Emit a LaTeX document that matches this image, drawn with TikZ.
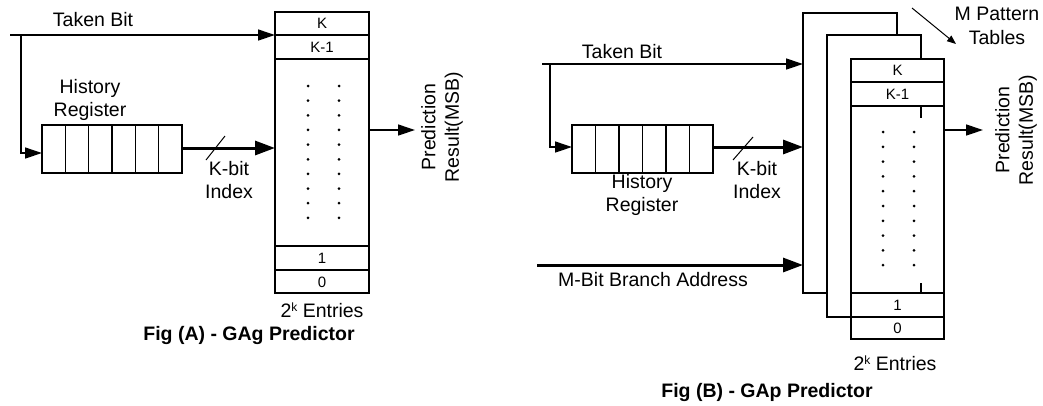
\documentclass[tikz,border=0pt]{standalone}
\usepackage{fontspec}
\setmainfont{Liberation Sans}
\usetikzlibrary{arrows.meta,calc}
\newcommand{\supk}{\raisebox{6.5pt}{\fontsize{12}{12}\selectfont k}}
\begin{document}
\begin{tikzpicture}[x=1pt,y=-1pt,
  lbl/.style={font=\fontsize{19.5}{23.5}\selectfont, inner sep=0pt, align=center},
  cell/.style={font=\fontsize{15}{16}\selectfont, inner sep=0pt},
  title/.style={font=\fontsize{19.5}{23}\selectfont\bfseries, inner sep=0pt},
  wire/.style={line width=1.3pt, -{Triangle[length=17pt,width=11pt]}},
  bus/.style={line width=3pt, -{Triangle[length=20pt,width=14pt]}},
  box/.style={draw, line width=1.4pt, fill=white, inner sep=0pt, outer sep=0pt, anchor=north west},
  rule/.style={line width=1.4pt},
  dotmark/.style={fill=black}]

\useasboundingbox (0,0) rectangle (1043,405);

% ---------------- GAg predictor ----------------
% pattern table
\node[box, minimum width=94pt, minimum height=281pt] (tabA) at (275,12) {};
\foreach \yy in {35,59,246,270}
  \draw[rule] (tabA.west |- 0,\yy) -- (tabA.east |- 0,\yy);
\node[cell] (kA)    at (322,23.5) {K};
\node[cell] (k1A)   at (322,47)   {K-1};
\node[cell] (oneA)  at (322,258)  {1};
\node[cell] (zeroA) at (322,282)  {0};
\foreach \i in {0,...,9} {
  \fill[dotmark] (308,86+14.65*\i) circle (1.5pt);
  \fill[dotmark] (339,86+14.65*\i) circle (1.5pt);
}
\node[lbl] (entA) at (322,310) {2\supk\ Entries};

% history register
\node[box, minimum width=140pt, minimum height=48pt] (regA) at (42,125) {};
\foreach \k in {1,...,5}
  \draw[line width=1.2pt] ($(regA.north west)+(23.33*\k,0)$) -- ($(regA.south west)+(23.33*\k,0)$);
\node[lbl] (histA) at (90,100) {History\\Register};

% taken bit input and its branch into the register
\coordinate (tbA) at (10,35);
\coordinate (brA) at (21,35);
\draw[wire] (tbA) -- (tabA.west |- tbA);
\draw[wire] (brA) |- (regA.west |- 0,153);
\node[lbl] (tbLabA) at (93,20) {Taken Bit};

% k-bit index bus
\draw[bus] (regA.east |- 0,148) -- (tabA.west |- 0,148);
\coordinate (slA1) at (206,160);
\coordinate (slA2) at (225,136);
\draw[line width=1pt] (slA1) -- (slA2);
\node[lbl] (idxA) at (229,180) {K-bit\\Index};

% prediction output
\coordinate (outA) at (415,130);
\draw[wire] (tabA.east |- outA) -- (outA);
\node[lbl, rotate=90] (predA) at (442,127) {Prediction\\Result(MSB)};

\node[title] (figA) at (249,335) {Fig (A) - GAg Predictor};

% ---------------- GAp predictor ----------------
% stacked pattern tables
\node[box, minimum width=94pt, minimum height=280pt] (tabB1) at (803,13) {};
\node[box, minimum width=94pt, minimum height=282pt] (tabB2) at (827,35) {};
\node[box, minimum width=93pt, minimum height=280pt] (tabB3) at (851,59) {};
\draw[rule] (921,106) -- (921,118);
\draw[rule] (921,283) -- (921,293);
\foreach \yy in {82,106,293,317}
  \draw[rule] (tabB3.west |- 0,\yy) -- (tabB3.east |- 0,\yy);
\node[cell] (kB)    at (897.5,70.5) {K};
\node[cell] (k1B)   at (897.5,94)   {K-1};
\node[cell] (oneB)  at (897.5,305)  {1};
\node[cell] (zeroB) at (897.5,328)  {0};
\foreach \i in {0,...,9} {
  \fill[dotmark] (883,132+14.8*\i) circle (1.5pt);
  \fill[dotmark] (914,132+14.8*\i) circle (1.5pt);
}
\node[lbl] (entB) at (895,363) {2\supk\ Entries};

% table count callout
\node[lbl] (mpt) at (997,26) {M Pattern\\Tables};
\coordinate (mptTail) at (912,8);
\coordinate (mptHead) at (956,44);
\draw[line width=1pt, -{Triangle[length=9pt,width=7pt]}] (mptTail) -- (mptHead);

% history register
\node[box, minimum width=141pt, minimum height=48pt] (regB) at (572,125) {};
\foreach \k in {1,...,5}
  \draw[line width=1.2pt] ($(regB.north west)+(23.5*\k,0)$) -- ($(regB.south west)+(23.5*\k,0)$);
\node[lbl] (histB) at (642,195) {History\\Register};

% taken bit input and its branch into the register
\coordinate (tbB) at (542,64);
\coordinate (brB) at (550,64);
\draw[wire] (tbB) -- (tabB1.west |- tbB);
\draw[wire] (brB) |- (regB.west |- 0,147);
\node[lbl] (tbLabB) at (622,52) {Taken Bit};

% k-bit index bus
\draw[bus] (regB.east |- 0,147) -- (tabB1.west |- 0,147);
\coordinate (slB1) at (733,160);
\coordinate (slB2) at (753,137);
\draw[line width=1pt] (slB1) -- (slB2);
\node[lbl] (idxB) at (757,180) {K-bit\\Index};

% branch address bus
\coordinate (addrB) at (537,265);
\draw[bus] (addrB) -- (tabB1.west |- addrB);
\node[lbl] (addrLab) at (653,280) {M-Bit Branch Address};

% prediction output
\coordinate (outB) at (983,130);
\draw[wire] (tabB3.east |- outB) -- (outB);
\node[lbl, rotate=90] (predB) at (1016,130) {Prediction\\Result(MSB)};

\node[title] (figB) at (767,392) {Fig (B) - GAp Predictor};
\end{tikzpicture}
\end{document}
